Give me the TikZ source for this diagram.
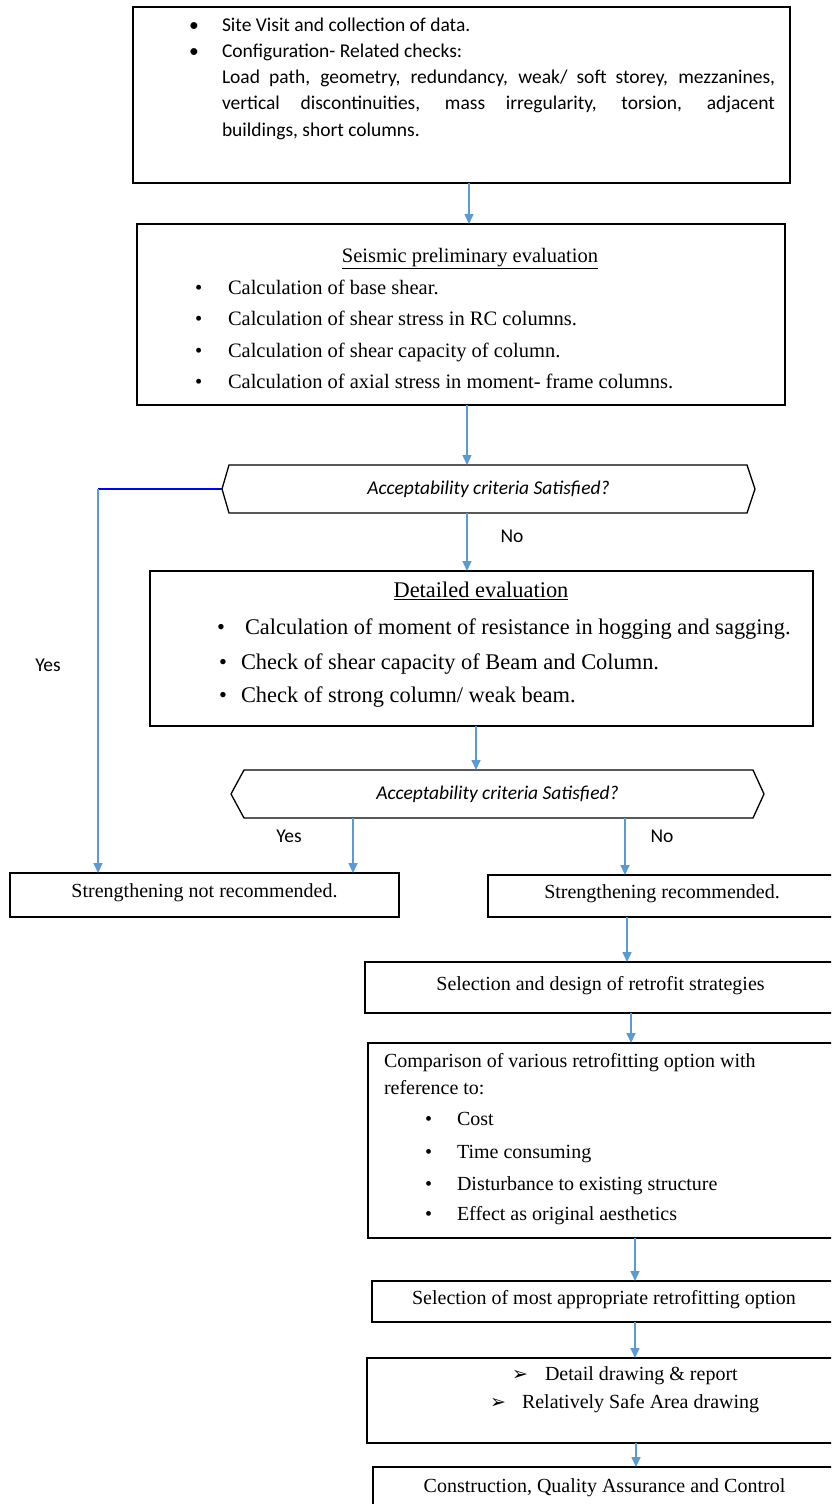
\documentclass[tikz,border=0pt]{standalone}
\usepackage{fontspec}
\setmainfont{Liberation Serif}
\newfontfamily\calibri{Carlito}
\newfontfamily\dejavu{DejaVu Sans}
\usepackage{tikz}
\usetikzlibrary{arrows.meta}
\definecolor{flowblue}{HTML}{5B9BD5}
\definecolor{yesblue}{HTML}{0000FF}

\begin{document}
\begin{tikzpicture}[
  x=1pt, y=-1pt,
  every node/.style={inner sep=0pt, outer sep=0pt},
  box/.style={draw=black, line width=1.3pt, anchor=north west,
    text height=0.7em, text depth=0.2em},
  flow/.style={draw=\colorisflow, line width=1.6pt, -{Triangle[length=10pt,width=9pt]}},
  txt/.style={anchor=west, text height=0.7em, text depth=0.2em},
  ctr/.style={anchor=center, text height=0.7em, text depth=0.2em},
  sans/.style={font=\calibri\fontsize{19.5}{23}\selectfont},
  quest/.style={font=\calibri\itshape\fontsize{19.5}{23}\selectfont},
  serA/.style={font=\fontsize{20.5}{24}\selectfont},
  serB/.style={font=\fontsize{22.4}{26}\selectfont},
  serC/.style={font=\fontsize{20}{24}\selectfont},
  arr/.style={font=\dejavu\fontsize{19}{22}\selectfont},
]
%-------------------------------------------------------------
\newcommand{\colorisflow}{flowblue}
\newcommand{\colorisyes}{yesblue}

\useasboundingbox (0,0) rectangle (831,1504);
\clip (0,0) rectangle (831,1504);

%============================================================
% site visit
\node[box, minimum width=657pt, minimum height=176pt] (B1) at (133,7) {};
\node[sans,txt] (p1) at (189,29) {•};
\node[sans,txt] (s1) at (222,29) {Site Visit and collection of data.};
\node[sans,txt] (p2) at (189,55) {•};
\node[sans,txt] (s2) at (222,55) {Configuration- Related checks:};
\node[sans,txt] (s3) at (222,81) {\makebox[553pt][s]{Load path, geometry, redundancy, weak/ soft storey, mezzanines,}};
\node[sans,txt] (s4) at (222,107) {\makebox[553pt][s]{vertical discontinuities, mass irregularity, torsion, adjacent}};
\node[sans,txt] (s5) at (222,134) {buildings, short columns.};

%============================================================
% preliminary evaluation
\node[box, minimum width=648pt, minimum height=181pt] (B2) at (137,224) {};
\node[serA,ctr] (h2) at (470,260) {\underline{Seismic preliminary evaluation}};
\node[serA,txt] (q1) at (195,292) {•};
\node[serA,txt] (r1) at (228,292) {Calculation of base shear.};
\node[serA,txt] (q2) at (195,323) {•};
\node[serA,txt] (r2) at (228,323) {Calculation of shear stress in RC columns.};
\node[serA,txt] (q3) at (195,355) {•};
\node[serA,txt] (r3) at (228,355) {Calculation of shear capacity of column.};
\node[serA,txt] (q4) at (195,386) {•};
\node[serA,txt] (r4) at (228,386) {Calculation of axial stress in moment- frame columns.};

%============================================================
% first check
\node[quest, minimum width=533pt, minimum height=48pt] (D1) at (488.5,489)
  {Acceptability criteria Satisfied?};
\draw[line width=1.3pt] (D1.west) -- ([xshift=7pt]D1.north west) -- ([xshift=-8pt]D1.north east)
  -- (D1.east) -- ([xshift=-8pt]D1.south east) -- ([xshift=7pt]D1.south west) -- cycle;

%============================================================
% detailed evaluation
\node[box, minimum width=663pt, minimum height=155pt] (B3) at (150,571) {};
\node[serB,ctr] (h3) at (481,595) {\underline{Detailed evaluation}};
\node[serB,txt] (u1) at (217,632) {•};
\node[serB,txt] (v1) at (245,632) {Calculation of moment of resistance in hogging and sagging.};
\node[serB,txt] (u2) at (219,667) {•};
\node[serB,txt] (v2) at (241,667) {Check of shear capacity of Beam and Column.};
\node[serB,txt] (u3) at (219,700) {•};
\node[serB,txt] (v3) at (241,700) {Check of strong column/ weak beam.};

%============================================================
% second check
\node[quest, minimum width=533pt, minimum height=48pt] (D2) at (497.5,794)
  {Acceptability criteria Satisfied?};
\draw[line width=1.3pt] (D2.west) -- ([xshift=13pt]D2.north west) -- ([xshift=-11pt]D2.north east)
  -- (D2.east) -- ([xshift=-11pt]D2.south east) -- ([xshift=13pt]D2.south west) -- cycle;

%============================================================
% outcomes
\node[box, serC, minimum width=389pt, minimum height=44pt] (B4) at (10,873)
  {Strengthening not recommended.};
\node[box, serC, minimum width=348pt, minimum height=42pt] (B5) at (488,875)
  {Strengthening recommended.};
\node[box, serC, minimum width=471pt, minimum height=51pt] (B6) at (365,962)
  {Selection and design of retrofit strategies};

%============================================================
% retrofit options
\node[box, minimum width=468pt, minimum height=195pt] (B7) at (368,1043) {};
\node[serC,txt] (w1) at (384,1065) {Comparison of various retrofitting option with};
\node[serC,txt] (w2) at (384,1092) {reference to:};
\node[serC,txt] (k1) at (425,1123) {•};
\node[serC,txt] (c1) at (457,1123) {Cost};
\node[serC,txt] (k2) at (425,1156) {•};
\node[serC,txt] (c2) at (457,1156) {Time consuming};
\node[serC,txt] (k3) at (425,1188) {•};
\node[serC,txt] (c3) at (457,1188) {Disturbance to existing structure};
\node[serC,txt] (k4) at (425,1218) {•};
\node[serC,txt] (c4) at (457,1218) {Effect as original aesthetics};

\node[box, serC, minimum width=464pt, minimum height=41pt] (B8) at (372,1281)
  {Selection of most appropriate retrofitting option};

\node[box, minimum width=469pt, minimum height=85pt] (B9) at (367,1358) {};
\node[arr,txt] (m1) at (512,1378) {➢};
\node[serC,txt] (n1) at (545,1378) {Detail drawing \& report};
\node[arr,txt] (m2) at (490,1406) {➢};
\node[serC,txt] (n2) at (522,1406) {Relatively Safe Area drawing};

\node[box, serC, minimum width=463pt, minimum height=45pt] (B10) at (373,1467)
  {Construction, Quality Assurance and Control};

%============================================================
% connectors
\coordinate (a1) at (469,0);
\coordinate (a2) at (467,0);
\coordinate (a4) at (476,0);
\coordinate (a5) at (353,0);
\coordinate (a6) at (625,0);
\coordinate (a7) at (627,0);
\coordinate (a8) at (631,0);
\coordinate (a9) at (635,0);
\coordinate (a11) at (636,0);
\coordinate (Yc) at (98,489);

\draw[flow] (B1.south -| a1) -- (B2.north -| a1);
\draw[flow] (B2.south -| a2) -- (D1.north -| a2);
\draw[flow] (D1.south -| a2) -- (B3.north -| a2);
\draw[flow] (B3.south -| a4) -- (D2.north -| a4);
\draw[flow] (D2.south -| a5) -- (B4.north -| a5);
\draw[flow] (D2.south -| a6) -- (B5.north -| a6);
\draw[flow] (B5.south -| a7) -- (B6.north -| a7);
\draw[flow] (B6.south -| a8) -- (B7.north -| a8);
\draw[flow] (B7.south -| a9) -- (B8.north -| a9);
\draw[flow] (B8.south -| a9) -- (B9.north -| a9);
\draw[flow] (B9.south -| a11) -- (B10.north -| a11);

\draw[\colorisyes, line width=1.2pt] (D1.west) -- (Yc);
\draw[flow] (Yc) -- (B4.north -| Yc);

\node[sans,ctr] (L1) at (512,540) {No};
\node[sans,ctr] (L2) at (48,669) {Yes};
\node[sans,ctr] (L3) at (289,840) {Yes};
\node[sans,ctr] (L4) at (662,840) {No};

\end{tikzpicture}
\end{document}
